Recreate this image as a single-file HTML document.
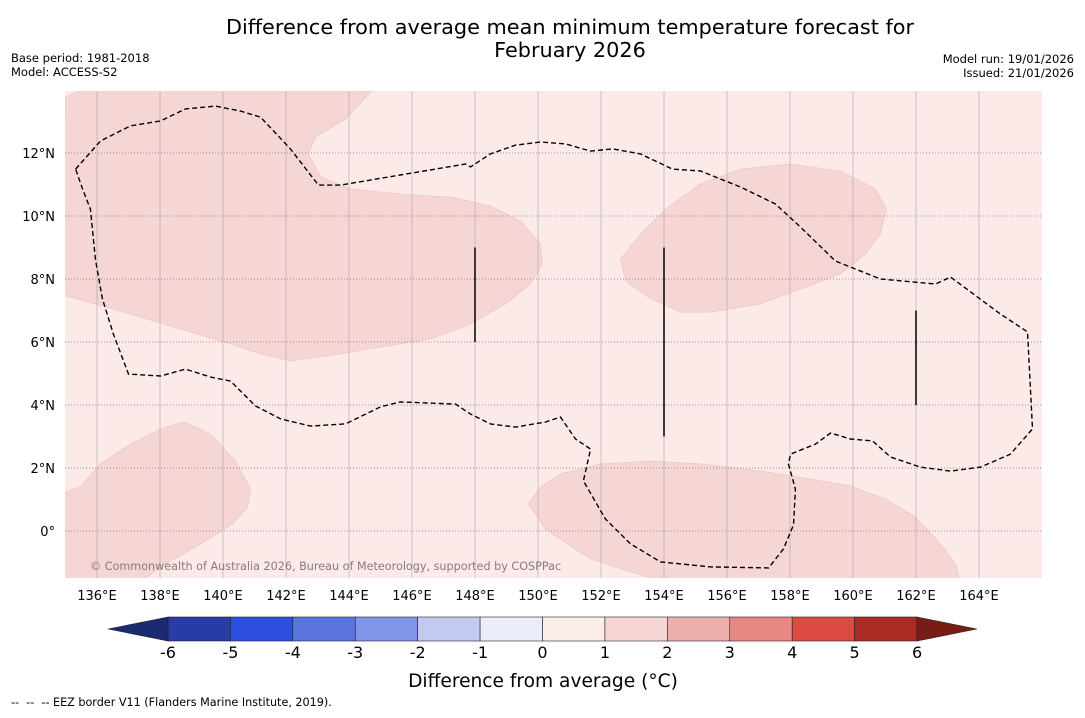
<!DOCTYPE html>
<html><head><meta charset="utf-8">
<style>
body{margin:0;background:#fff;width:1085px;height:713px;overflow:hidden;font-family:"Liberation Sans","DejaVu Sans",sans-serif;}
</style></head><body>
<svg id="s" width="1085" height="713" xmlns="http://www.w3.org/2000/svg" font-family="'DejaVu Sans','Liberation Sans',sans-serif">
<text x="570" y="34" font-size="20.8" text-anchor="middle">Difference from average mean minimum temperature forecast for</text>
<text x="570" y="57" font-size="20.8" text-anchor="middle">February 2026</text>
<text x="11" y="62" font-size="11.5">Base period: 1981-2018</text>
<text x="11" y="76" font-size="11.5">Model: ACCESS-S2</text>
<text x="1074" y="63" font-size="11.5" text-anchor="end">Model run: 19/01/2026</text>
<text x="1074" y="77" font-size="11.5" text-anchor="end">Issued: 21/01/2026</text>
<defs><clipPath id="mc"><rect x="65" y="91" width="977" height="487"/></clipPath></defs>
<rect x="65" y="91" width="977" height="487" fill="#fbeae8"/>
<g id="regions" clip-path="url(#mc)"></g>
<g id="grid"></g>
<g id="eez" clip-path="url(#mc)"></g>
<g id="cbar"></g>
<text x="90" y="570" font-size="11.2" fill="#8a7a7a">© Commonwealth of Australia 2026, Bureau of Meteorology, supported by COSPPac</text>
<text x="543" y="687" font-size="18.6" text-anchor="middle">Difference from average (°C)</text>
<text x="11" y="706" font-size="11.2" xml:space="preserve">--  --  -- EEZ border V11 (Flanders Marine Institute, 2019).</text>
</svg>
<script>
const lonTicks=[136,138,140,142,144,146,148,150,152,154,156,158,160,162,164];
const latTicks=[0,2,4,6,8,10,12];
const cbTicks=[-6,-5,-4,-3,-2,-1,0,1,2,3,4,5,6];
const cbColors=["#283ca8","#2d4ede","#5a74e0","#8294e8","#c2caf2","#eaecf9","#fcecea","#f6d5d5","#eeb0ad","#e88882","#dc4b42","#aa2a24"];
const nwRegion=[[135,13.78],[135.95,14.2],[144.94,14.2],[143.89,13.08],[142.94,12.51],[142.71,11.97],[143.1,11.24],[144.05,10.86],[145.63,10.7],[147.22,10.6],[148.49,10.32],[149.44,9.84],[150.08,9.11],[150.14,8.48],[149.76,7.84],[148.97,7.21],[147.86,6.57],[146.59,6.1],[145,5.84],[143.73,5.62],[142.14,5.4],[141.19,5.62],[140.24,5.94],[138.65,6.41],[137.06,6.89],[135.95,7.21],[134.8,7.52]];
const neRegion=[[152.62,8.63],[153.25,9.43],[154.05,10.22],[155.16,11.02],[156.43,11.49],[158.02,11.65],[159.6,11.43],[160.71,10.86],[161.06,10.22],[160.87,9.43],[160.4,8.79],[159.6,8.16],[158.33,7.68],[157.06,7.21],[155.48,6.95],[154.52,6.95],[153.57,7.37],[152.78,7.94]];
const swRegion=[[134.8,1.17],[135.48,1.4],[136.11,2.13],[137.06,2.76],[138.02,3.24],[138.75,3.46],[139.6,3.08],[140.4,2.22],[140.87,1.33],[140.78,0.76],[140.3,0.22],[139.29,-0.41],[138.17,-1.05],[137.38,-1.6],[134.8,-1.6]];
const seRegion=[[150.08,1.4],[150.71,1.81],[151.98,2.13],[153.57,2.22],[155.16,2.13],[157.06,1.9],[158.65,1.65],[159.92,1.43],[161.03,1.02],[161.98,0.44],[162.78,-0.41],[163.25,-1.05],[163.41,-1.6],[153.89,-1.6],[151.67,-0.89],[150.24,0.06],[149.7,0.86]];
const eezLine=[[135.32,11.49],[136.11,12.38],[137.06,12.86],[138.02,13.02],[138.81,13.4],[139.76,13.49],[140.56,13.33],[141.19,13.14],[142.14,12.13],[143.03,10.98],[143.73,10.98],[145.63,11.3],[147.7,11.65],[147.86,11.56],[148.49,11.97],[149.29,12.25],[150.08,12.35],[150.87,12.29],[151.67,12.06],[152.37,12.13],[153.25,11.97],[154.27,11.49],[155.16,11.43],[156.43,10.92],[157.54,10.38],[158.33,9.65],[159.44,8.57],[160.87,8.0],[162.62,7.84],[163.1,8.06],[164.68,6.89],[165.54,6.32],[165.7,3.24],[165,2.44],[164.05,2.03],[163.1,1.9],[162.14,2.03],[161.19,2.35],[160.62,2.86],[159.92,2.92],[159.29,3.11],[158.81,2.76],[158.02,2.44],[157.95,2.13],[158.17,1.33],[158.11,0.19],[157.79,-0.57],[157.32,-1.17],[155.48,-1.14],[153.89,-0.98],[152.94,-0.41],[152.14,0.38],[151.44,1.59],[151.67,2.6],[151.19,2.92],[150.71,3.62],[150.24,3.46],[149.29,3.3],[148.49,3.4],[147.86,3.71],[147.38,4.03],[145.63,4.1],[145,3.94],[143.89,3.4],[142.78,3.33],[141.83,3.56],[141.03,3.97],[140.24,4.76],[139.6,4.89],[138.81,5.14],[138.02,4.92],[137.0,4.98],[136.52,6.25],[136.17,7.37],[135.95,8.63],[135.79,10.22],[135.54,10.86],[135.32,11.49]];
const boundaryLines=[[148,9,6],[154,9,3],[162,7,4]];
const NS="http://www.w3.org/2000/svg";
const X=lon=>97+(lon-136)*31.5;
const Y=lat=>531-lat*31.5;
const CX=v=>168+(v+6)*62.42;
function mk(tag,attrs,parent){const e=document.createElementNS(NS,tag);for(const k in attrs)e.setAttribute(k,attrs[k]);parent.appendChild(e);return e;}
const pts=a=>a.map(p=>X(p[0]).toFixed(1)+","+Y(p[1]).toFixed(1)).join(" ");
const reg=document.getElementById('regions');
[["nw",nwRegion],["ne",neRegion],["sw",swRegion],["se",seRegion]].forEach(([n,a])=>{
 const p=mk('polygon',{points:pts(a),fill:"#f5d6d5",stroke:"#eac3c2","stroke-width":0.6},reg);
 
 
});
const g=document.getElementById('grid');
lonTicks.forEach(l=>{
 const ln=mk('line',{x1:X(l),x2:X(l),y1:91,y2:578,stroke:"#999","stroke-width":0.7,"stroke-opacity":0.7},g);
 
 
 const t=mk('text',{x:X(l),y:600,"font-size":13,"text-anchor":"middle"},g);t.textContent=l+"°E";
 
 
});
latTicks.forEach(l=>{
 const ln=mk('line',{x1:65,x2:1042,y1:Y(l),y2:Y(l),stroke:"#777","stroke-width":0.8,"stroke-dasharray":"1,2"},g);
 
 
 const t=mk('text',{x:55,y:Y(l)+5,"font-size":13,"text-anchor":"end"},g);t.textContent=l===0?"0°":l+"°N";
 
 
});
const ez=document.getElementById('eez');
const pl=mk('polyline',{points:pts(eezLine),fill:"none",stroke:"#000","stroke-width":1.4,"stroke-dasharray":"5,3"},ez);


boundaryLines.forEach(b=>{
 const ln=mk('line',{x1:X(b[0]),x2:X(b[0]),y1:Y(b[1]),y2:Y(b[2]),stroke:"#000","stroke-width":1.5},ez);
 
 
});
const cb=document.getElementById('cbar');
cbColors.forEach((c,i)=>{
 const r=mk('rect',{x:CX(cbTicks[i]),y:617,width:CX(cbTicks[i+1])-CX(cbTicks[i]),height:24,fill:c,stroke:"#222","stroke-width":0.6},cb);
 
 
});
const lt=mk('polygon',{points:`${CX(-6)},617 108,629 ${CX(-6)},641`,fill:"#1b2a72",stroke:"#222","stroke-width":0.6},cb);


const rt=mk('polygon',{points:`${CX(6)},617 977,629 ${CX(6)},641`,fill:"#7a1c16",stroke:"#222","stroke-width":0.6},cb);


cbTicks.forEach(v=>{
 const t=mk('text',{x:CX(v),y:658,"font-size":16,"text-anchor":"middle"},cb);t.textContent=v;
 
 
});
</script>
</body></html>
